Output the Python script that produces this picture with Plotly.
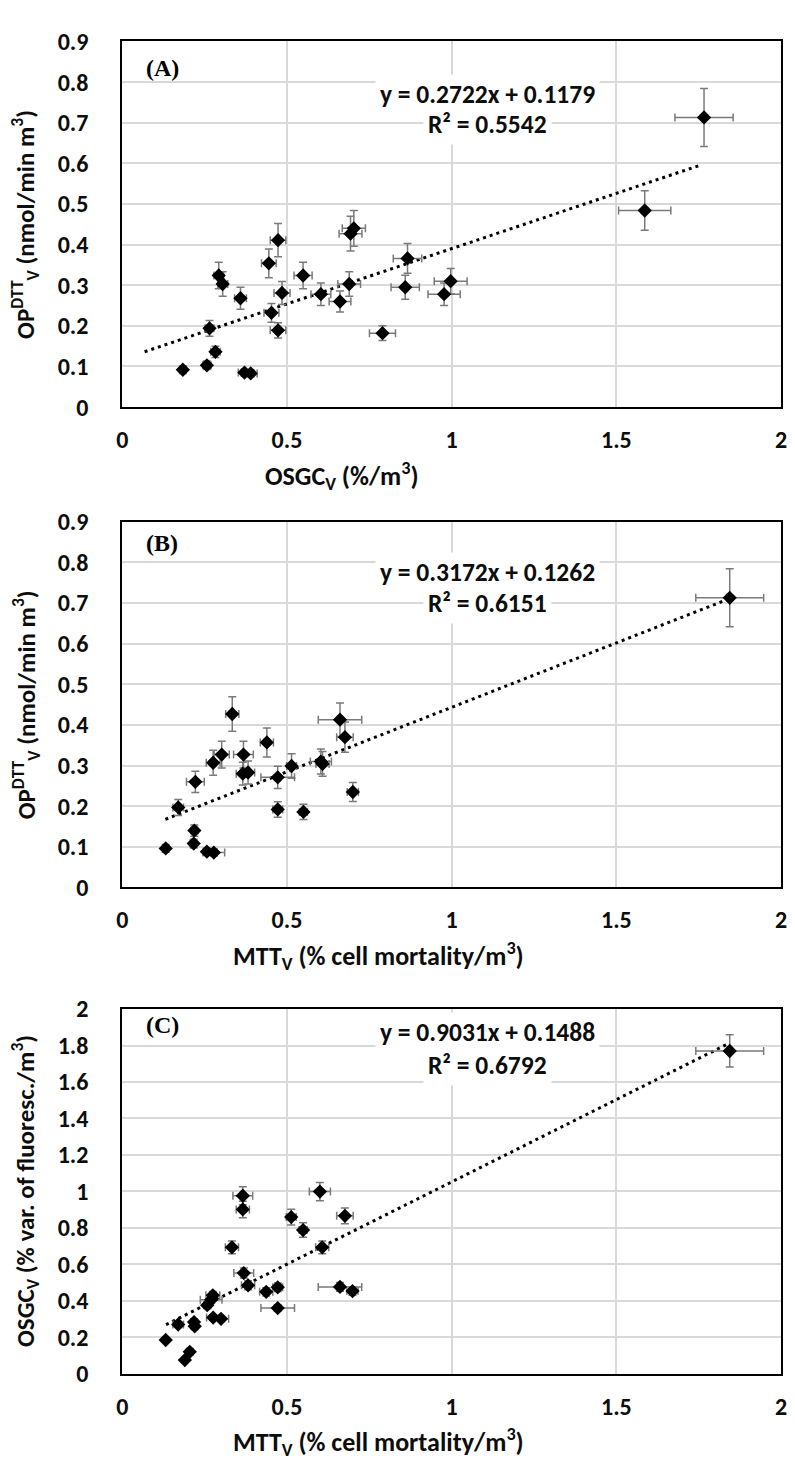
import plotly.graph_objects as go
import numpy as np

# ---------------- Panel A: OP_DTT_V vs OSGC_V ----------------
A_osgc = [0.184, 0.257, 0.283, 0.265, 0.293, 0.305, 0.359, 0.371, 0.390, 0.445,
          0.453, 0.473, 0.473, 0.485, 0.549, 0.603, 0.661, 0.689, 0.693, 0.703,
          0.790, 0.866, 0.859, 0.997, 0.977, 1.586, 1.766]
A_op = [0.092, 0.103, 0.136, 0.194, 0.324, 0.303, 0.268, 0.085, 0.083, 0.354,
        0.232, 0.411, 0.189, 0.281, 0.324, 0.278, 0.260, 0.303, 0.427, 0.440,
        0.182, 0.366, 0.295, 0.310, 0.278, 0.484, 0.713]
A_slope, A_icpt = 0.2722, 0.1179
A_fit_range = [0.068, 1.755]
A_eq = ["y = 0.2722x + 0.1179", "R² = 0.5542"]

# ---------------- Panel B: OP_DTT_V vs MTT_V ----------------
B_mtt = [0.132, 0.217, 0.219, 0.170, 0.222, 0.257, 0.278, 0.276, 0.302, 0.334,
         0.368, 0.366, 0.382, 0.439, 0.472, 0.472, 0.514, 0.550, 0.603, 0.608,
         0.661, 0.676, 0.700, 1.844]
B_op = [0.096, 0.108, 0.140, 0.197, 0.260, 0.088, 0.086, 0.307, 0.327, 0.427,
        0.327, 0.280, 0.283, 0.357, 0.271, 0.192, 0.299, 0.186, 0.310, 0.304,
        0.413, 0.370, 0.235, 0.713]
B_mtt_err = [0.005, 0.010, 0.010, 0.016, 0.027, 0.010, 0.033, 0.021, 0.023, 0.020,
             0.030, 0.020, 0.020, 0.020, 0.051, 0.015, 0.015, 0.012, 0.032, 0.020,
             0.066, 0.025, 0.017, 0.103]
B_slope, B_icpt = 0.3172, 0.1262
B_fit_range = [0.131, 1.844]
B_eq = ["y = 0.3172x + 0.1262", "R² = 0.6151"]

# ---------------- Panel C: OSGC_V vs MTT_V ----------------
C_mtt = [0.132, 0.170, 0.190, 0.205, 0.218, 0.220, 0.258, 0.270, 0.275, 0.276,
         0.300, 0.333, 0.366, 0.366, 0.369, 0.382, 0.437, 0.472, 0.472, 0.513,
         0.549, 0.600, 0.607, 0.661, 0.676, 0.699, 1.844]
C_osgc = [0.185, 0.270, 0.075, 0.120, 0.283, 0.260, 0.376, 0.405, 0.430, 0.308,
          0.301, 0.693, 0.976, 0.901, 0.552, 0.485, 0.449, 0.474, 0.360, 0.859,
          0.788, 0.999, 0.693, 0.476, 0.866, 0.453, 1.770]
C_mtt_err = [0.005, 0.016, 0.008, 0.010, 0.010, 0.010, 0.010, 0.033, 0.021, 0.020,
             0.023, 0.020, 0.030, 0.020, 0.030, 0.020, 0.020, 0.015, 0.051, 0.015,
             0.012, 0.032, 0.020, 0.066, 0.025, 0.017, 0.103]
C_slope, C_icpt = 0.9031, 0.1488
C_fit_range = [0.133, 1.844]
C_eq = ["y = 0.9031x + 0.1488", "R² = 0.6792"]

labels = ["(A)", "(B)", "(C)"]

# ---------------- layout geometry ----------------
W, H = 795, 1473
PX_L, PX_R = 118, 787
panels_px = [(27, 400), (517, 890), (1014, 1386)]

def fy(p):
    return 1 - p / H

SANS = "Calibri, Carlito, Lato, sans-serif"
SERIF = "Times New Roman, Liberation Serif, serif"
ERR_COL = "#7a7a7a"
GRID = "#d9d9d9"
TXT = "#0d0d0d"

fig = go.Figure()

def add_panel(i, xs, ys, err_x, err_y, slope, icpt, frange):
    xa = "x" if i == 0 else f"x{i+1}"
    ya = "y" if i == 0 else f"y{i+1}"
    fx = np.array(frange)
    fig.add_trace(go.Scatter(
        x=fx, y=slope * fx + icpt, mode="lines", xaxis=xa, yaxis=ya,
        line=dict(color="black", width=3, dash="3px,4px"), hoverinfo="skip",
        showlegend=False))
    fig.add_trace(go.Scatter(
        x=xs, y=ys, mode="markers", xaxis=xa, yaxis=ya,
        marker=dict(symbol="diamond", size=11, color="black"),
        error_x=err_x, error_y=err_y, showlegend=False))

ebx_pct = dict(type="percent", value=5, color=ERR_COL, thickness=1.5, width=4)
eby_pct10 = dict(type="percent", value=10, color=ERR_COL, thickness=1.5, width=4)
eby_pct5 = dict(type="percent", value=5, color=ERR_COL, thickness=1.5, width=4)

add_panel(0, A_osgc, A_op, ebx_pct, eby_pct10, A_slope, A_icpt, A_fit_range)
add_panel(1, B_mtt, B_op,
          dict(type="data", array=B_mtt_err, color=ERR_COL, thickness=1.5, width=4),
          eby_pct10, B_slope, B_icpt, B_fit_range)
add_panel(2, C_mtt, C_osgc,
          dict(type="data", array=C_mtt_err, color=ERR_COL, thickness=1.5, width=4),
          eby_pct5, C_slope, C_icpt, C_fit_range)

y_ranges = [(0, 0.9, 0.1), (0, 0.9, 0.1), (0, 2, 0.2)]
for i, (top, bot) in enumerate(panels_px):
    sfx = "" if i == 0 else str(i + 1)
    ymin, ymax, dt = y_ranges[i]
    common = dict(showgrid=True, gridcolor=GRID, gridwidth=1.5, zeroline=False,
                  showline=True, linecolor="black", linewidth=2, mirror=True,
                  ticks="", tickfont=dict(family=SANS, size=24, color=TXT, weight="bold"))
    fig.layout["xaxis" + sfx] = dict(common, domain=[PX_L / W, PX_R / W],
                                     range=[0, 2], dtick=0.5, tick0=0,
                                     anchor="y" + sfx, ticklabelstandoff=10)
    fig.layout["yaxis" + sfx] = dict(common, domain=[fy(bot), fy(top)],
                                     range=[ymin, ymax], dtick=dt, tick0=0,
                                     anchor="x" + sfx, ticklabelstandoff=27)

ann = []
x_titles = ["OSGC<sub>V</sub> (%/m<sup>3</sup>)",
            "MTT<sub>V</sub> (% cell mortality/m<sup>3</sup>)",
            "MTT<sub>V</sub> (% cell mortality/m<sup>3</sup>)"]
x_title_cx = [341, 378, 378]
y_titles = ["OP<sup>DTT</sup><sub>V</sub> (nmol/min m<sup>3</sup>)",
            "OP<sup>DTT</sup><sub>V</sub> (nmol/min m<sup>3</sup>)",
            "OSGC<sub>V</sub> (% var. of fluoresc./m<sup>3</sup>)"]
eqs = [A_eq, B_eq, C_eq]
label_off = [27, 22, 16]
eq_off = [(54, 85), (52, 83), (24, 58)]
for i, (top, bot) in enumerate(panels_px):
    ann.append(dict(text="<b>" + x_titles[i] + "</b>", xref="paper", yref="paper",
                    x=x_title_cx[i] / W, y=fy(bot + 70), xanchor="center", yanchor="middle",
                    showarrow=False, font=dict(family=SANS, size=26, color=TXT)))
    ann.append(dict(text="<b>" + y_titles[i] + "</b>", xref="paper", yref="paper",
                    x=20 / W, y=fy((top + bot) / 2), xanchor="center", yanchor="middle",
                    textangle=-90, showarrow=False,
                    font=dict(family=SANS, size=25, color=TXT)))
    ann.append(dict(text="<b>" + labels[i] + "</b>", xref="paper", yref="paper",
                    x=140 / W, y=fy(top + label_off[i]), xanchor="left", yanchor="middle",
                    showarrow=False, font=dict(family=SERIF, size=24, color="black")))
    for k in range(2):
        ann.append(dict(text="<b>" + eqs[i][k] + "</b>", xref="paper", yref="paper",
                        x=489 / W, y=fy(top + eq_off[i][k]), xanchor="center",
                        yanchor="middle", showarrow=False, bgcolor="white", borderpad=4,
                        font=dict(family=SANS, size=25.5, color=TXT)))

fig.update_layout(width=W, height=H, margin=dict(l=0, r=0, t=0, b=0),
                  plot_bgcolor="white", paper_bgcolor="white",
                  annotations=ann, showlegend=False)

fig.write_html("out.html", config={"displayModeBar": False},
               post_script="document.body.style.margin='0';")
